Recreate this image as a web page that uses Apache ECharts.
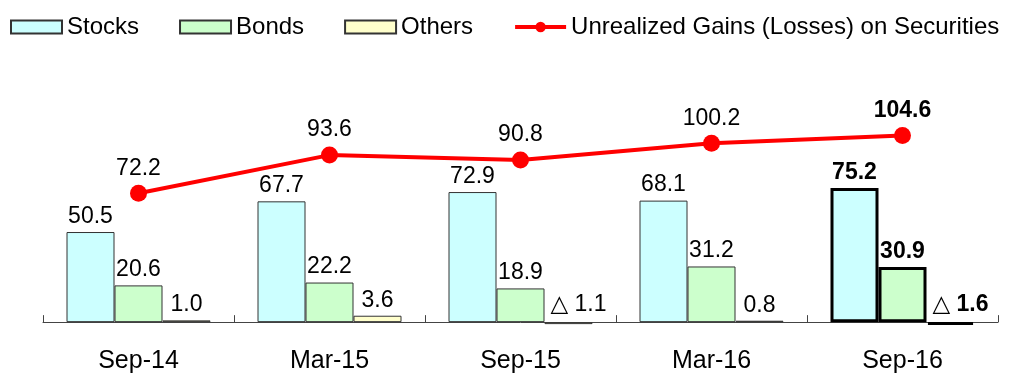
<!DOCTYPE html>
<html>
<head>
<meta charset="utf-8">
<script src="https://cdn.jsdelivr.net/npm/echarts@6/dist/echarts.min.js"></script>
<style>
html,body{margin:0;padding:0;background:#fff;}
#c{width:1012px;height:373px;}
</style>
</head>
<body>
<div id="c"></div>
<script>
const categories = ['Sep-14', 'Mar-15', 'Sep-15', 'Mar-16', 'Sep-16'];
const stocks = [50.5, 67.7, 72.9, 68.1, 75.2];
const bonds = [20.6, 22.2, 18.9, 31.2, 30.9];
const others = [1.0, 3.6, -1.1, 0.8, -1.6];
const gains = [72.2, 93.6, 90.8, 100.2, 104.6];
const highlightIndex = 4;

const FONT = 'Liberation Sans, Arial, DejaVu Sans, sans-serif';
const fmt = v => v < 0 ? '\u25B3 ' + Math.abs(v).toFixed(1) : v.toFixed(1);

function barData(arr) {
  return arr.map((v, i) => {
    const item = { value: v };
    const label = {};
    if (i === highlightIndex) {
      item.itemStyle = { borderColor: '#000', borderWidth: 3 };
      label.fontWeight = 'bold';
    }
    if (v < 0) label.offset = [10, -2];
    item.label = label;
    return item;
  });
}
function lineData(arr) {
  return arr.map((v, i) => {
    const item = { value: v };
    if (i === highlightIndex) item.label = { fontWeight: 'bold' };
    return item;
  });
}
const barLabel = {
  show: true, position: 'top', distance: 4, fontSize: 23, color: '#000', fontFamily: FONT,
  formatter: p => fmt(p.value)
};
function barSeries(name, arr, color) {
  return {
    name, type: 'bar', data: barData(arr), barWidth: 48, barGap: '0%',
    itemStyle: { color, borderColor: '#333', borderWidth: 1 },
    label: barLabel
  };
}

const chart = echarts.init(document.getElementById('c'));
chart.setOption({
  animation: false,
  textStyle: { fontFamily: FONT },
  legend: {
    left: 5, top: 10, itemWidth: 51, itemHeight: 13, itemGap: 40,
    textStyle: { fontSize: 24, color: '#000', fontFamily: FONT },
    data: [
      { name: 'Stocks', icon: 'rect' },
      { name: 'Bonds', icon: 'rect' },
      { name: 'Others', icon: 'rect' },
      { name: 'Unrealized Gains (Losses) on Securities', lineStyle: { width: 4, color: '#FF0000' } }
    ]
  },
  grid: { left: 43, right: 14, top: 108, bottom: 33, outerBoundsMode: 'none', containLabel: false },
  xAxis: {
    type: 'category', data: categories,
    axisLine: { lineStyle: { color: '#444', width: 1 } },
    axisTick: { show: true, inside: true, length: 7, lineStyle: { color: '#444' } },
    axisLabel: { fontSize: 25, color: '#000', margin: 9, fontFamily: FONT }
  },
  yAxis: {
    type: 'value', min: -10, max: 120, show: false, splitLine: { show: false }
  },
  series: [
    barSeries('Stocks', stocks, '#CCFFFF'),
    barSeries('Bonds', bonds, '#CCFFCC'),
    barSeries('Others', others, '#FFFFCC'),
    {
      name: 'Unrealized Gains (Losses) on Securities', type: 'line', data: lineData(gains),
      z: 5,
      lineStyle: { color: '#FF0000', width: 4 },
      itemStyle: { color: '#FF0000' },
      symbol: 'circle', symbolSize: 17,
      label: { show: true, position: 'top', distance: 5, fontSize: 23, color: '#000', fontFamily: FONT,
        formatter: p => fmt(p.value) }
    }
  ]
});
</script>
</body>
</html>
